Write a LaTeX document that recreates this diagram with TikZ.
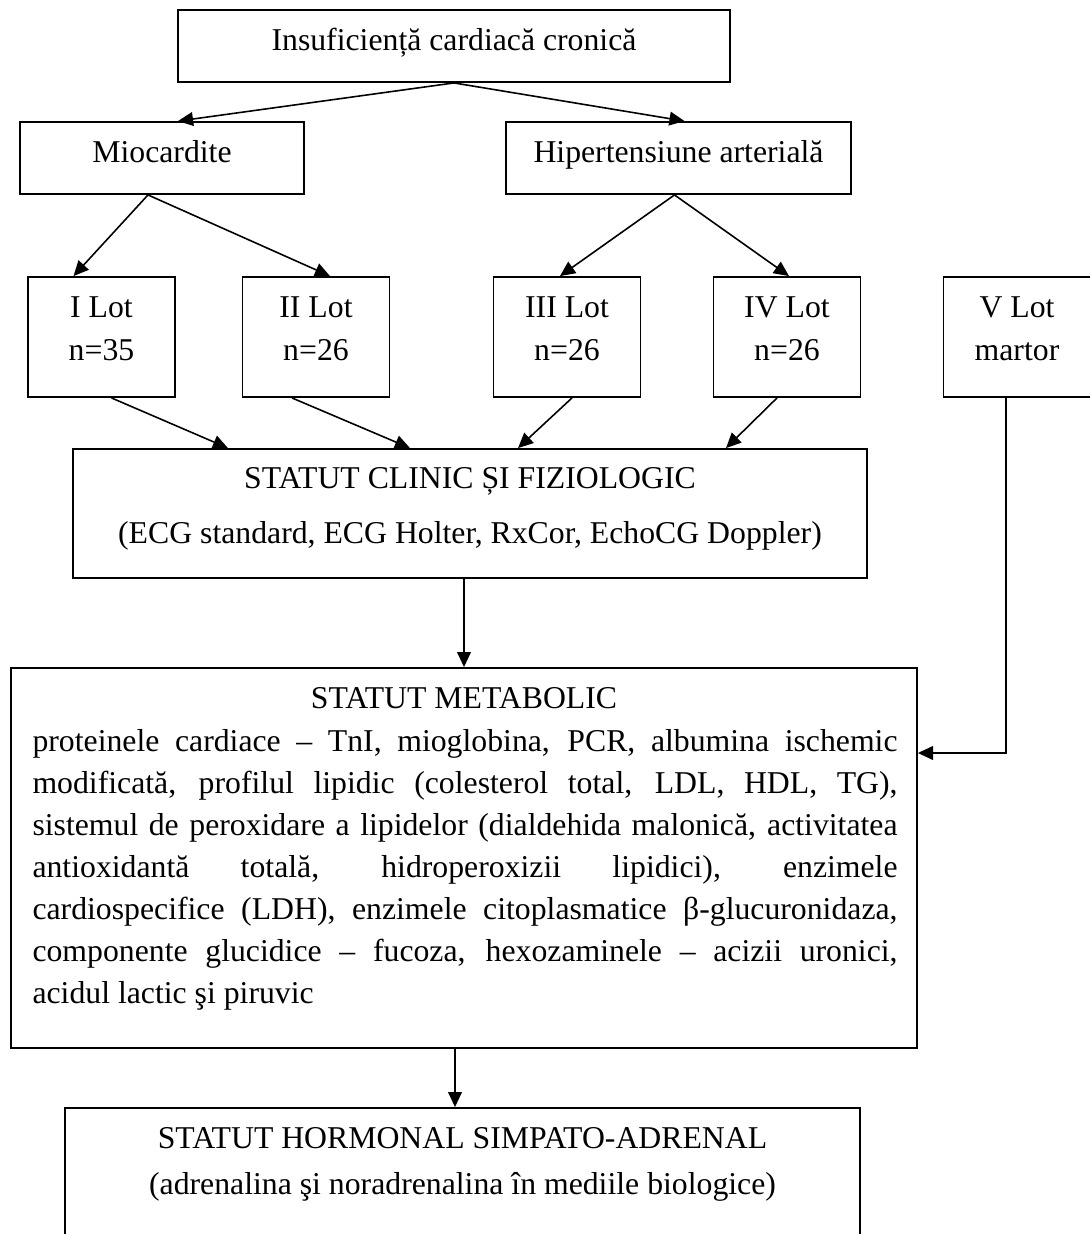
\documentclass[tikz,border=0pt]{standalone}
\usepackage{fontspec}
\setmainfont{Liberation Serif}
\usetikzlibrary{arrows.meta,calc,positioning}
\newcommand{\pxu}{0.378pt}

\begin{document}
\begin{tikzpicture}[x=\pxu, y=-\pxu,
	box/.style={draw, line width=0.7pt, inner sep=0pt},
	lotbox/.style={box, minimum width=147*\pxu, minimum height=120*\pxu},
	txt/.style={inner sep=0pt, anchor=base, font=\fontsize{12}{15.9}\selectfont},
	arr/.style={-{Triangle[length=5.7pt,width=5.2pt]}, line width=0.6pt}]
	\useasboundingbox (0,0) rectangle (1090,1234);
% draw boxes
	\node[box, minimum width=552*\pxu, minimum height=72*\pxu] (top) at (454,46) {};
	\node[box, minimum width=284*\pxu, minimum height=72*\pxu] (mioc) at (162,158) {};
	\node[box, minimum width=345*\pxu, minimum height=72*\pxu] (hta) at (678.5,158) {};
	\node[box, minimum width=794*\pxu, minimum height=129*\pxu] (clinic) at (470,513.5) {};
	\node[box, minimum width=906*\pxu, minimum height=380*\pxu] (metab) at (464,858) {};
	\node[box, minimum width=795*\pxu, minimum height=200*\pxu] (horm) at (462.5,1208) {};
	\foreach \x/\n/\num [count=\i] in {101.5/I/n=35, 316/II/n=26, 567/III/n=26, 787/IV/n=26, 1017/V/martor}{
		\node[lotbox] (lot\i) at (\x,337) {};
		\node[txt] (lot\i-a) at (\x,317) {\n\ Lot};
		\node[txt] (lot\i-b) at (\x,360) {\num};
	}
% texts
	\node[txt] (top-t) at (454,50) {Insuficiență cardiacă cronică};
	\node[txt] (mioc-t) at (162,162) {Miocardite};
	\node[txt] (hta-t) at (678.5,162) {Hipertensiune arterială};
	\node[txt] (clinic-a) at (470,488) {STATUT CLINIC ȘI FIZIOLOGIC};
	\node[txt] (clinic-b) at (470,543) {(ECG standard, ECG Holter, RxCor, EchoCG Doppler)};
	\node[txt] (metab-a) at (464,708) {STATUT METABOLIC};
	\node[txt, anchor=base west, text width=865*\pxu, align=justify] (metab-b) at (32,751)
		{proteinele cardiace – TnI, mioglobina, PCR, albumina ischemic\linebreak
		modificată, profilul lipidic (colesterol total, LDL, HDL, TG),\linebreak
		sistemul de peroxidare a lipidelor (dialdehida malonică, activitatea\linebreak
		antioxidantă totală, hidroperoxizii lipidici), enzimele\linebreak
		cardiospecifice (LDH), enzimele citoplasmatice β-glucuronidaza,\linebreak
		componente glucidice – fucoza, hexozaminele – acizii uronici,\linebreak
		acidul lactic şi piruvic};
	\node[txt] (horm-a) at (462.5,1148) {STATUT HORMONAL SIMPATO-ADRENAL};
	\node[txt] (horm-b) at (462.5,1194) {(adrenalina şi noradrenalina în mediile biologice)};
% arrows
	\draw[arr] (top.south) -- ($(mioc.north)+(16,0)$);
	\draw[arr] (top.south) -- ($(hta.north)+(6,0)$);
	\draw[arr] ($(mioc.south)+(-14,0)$) -- ($(lot1.north)+(-28,0)$);
	\draw[arr] ($(mioc.south)+(-14,0)$) -- ($(lot2.north)+(14,0)$);
	\draw[arr] ($(hta.south)+(-4,0)$) -- ($(lot3.north)+(-7,0)$);
	\draw[arr] ($(hta.south)+(-4,0)$) -- ($(lot4.north)+(2,0)$);
	\draw[arr] ($(lot1.south)+(10,0)$) -- ($(clinic.north)+(-242,0)$);
	\draw[arr] ($(lot2.south)+(-24,0)$) -- ($(clinic.north)+(-60,0)$);
	\draw[arr] ($(lot3.south)+(5,0)$) -- ($(clinic.north)+(48,0)$);
	\draw[arr] ($(lot4.south)+(-10,0)$) -- ($(clinic.north)+(256,0)$);
	\draw[arr] (metab.north |- clinic.south) -- (metab.north);
	\draw[arr] ($(lot5.south)+(-11,0)$) |- ($(metab.east)+(0,-105)$);
	\draw[arr] ($(metab.south)+(-9,0)$) coordinate (m) -- (m |- horm.north);
\end{tikzpicture}
\end{document}
